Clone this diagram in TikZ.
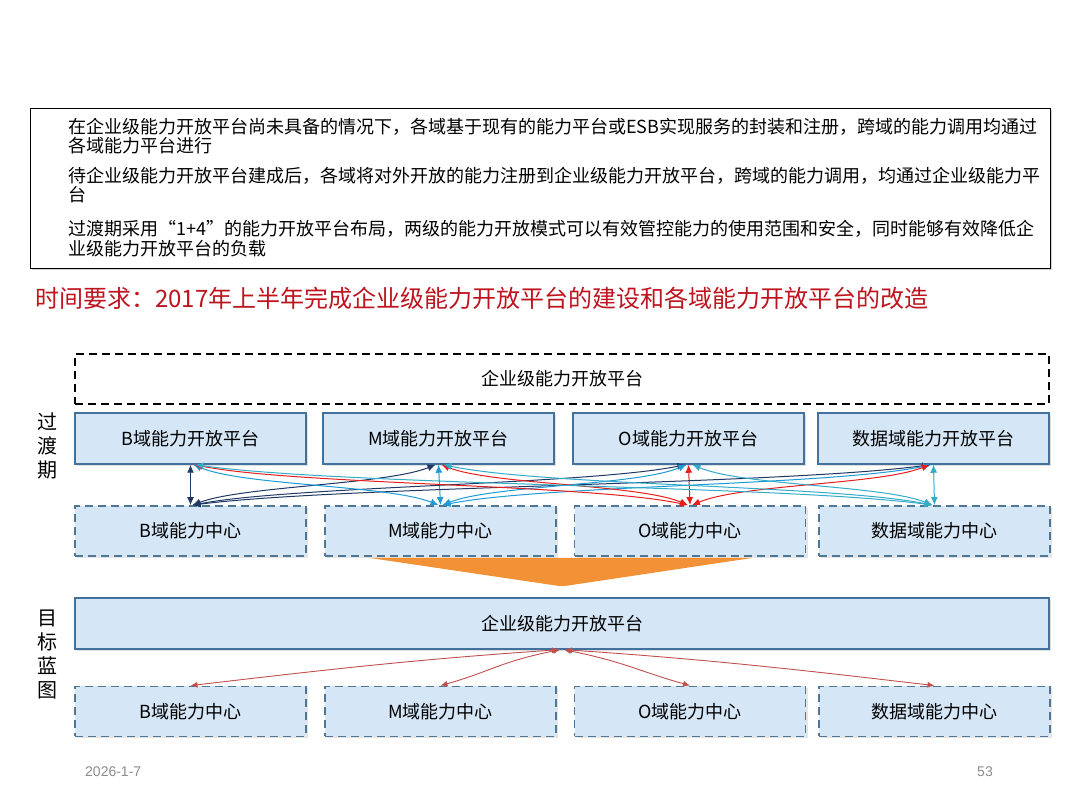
\documentclass[tikz,border=0pt]{standalone}
\usepackage{fontspec}
\setmainfont{Noto Sans CJK SC}
\newfontfamily\footfont{Liberation Sans}
\usetikzlibrary{arrows.meta,shadows}
\definecolor{boxfill}{RGB}{213,230,246}
\definecolor{boxdraw}{RGB}{65,113,156}
\definecolor{dashdraw}{RGB}{80,118,150}
\definecolor{titlered}{RGB}{190,20,30}
\definecolor{triorange}{RGB}{242,145,54}
\definecolor{colB}{RGB}{31,56,100}
\definecolor{colM}{RGB}{30,155,215}
\definecolor{colO}{RGB}{230,30,30}
\definecolor{colD}{RGB}{50,172,200}
\definecolor{arrred}{RGB}{192,80,77}
\definecolor{footgray}{RGB}{140,140,140}
\tikzset{
  platbox/.style={draw=boxdraw,line width=1.5pt,fill=boxfill,minimum width=231pt,minimum height=51pt,inner sep=0pt,font=\fontsize{18}{20}\selectfont,
    drop shadow={opacity=0.25,shadow xshift=2pt,shadow yshift=-2pt}},
  centbox/.style={draw=dashdraw,line width=1.8pt,dash pattern=on 8pt off 5pt,fill=boxfill,minimum width=231pt,minimum height=50pt,inner sep=0pt,font=\fontsize{18}{20}\selectfont,
    drop shadow={opacity=0.2,shadow xshift=2pt,shadow yshift=-2pt}},
  conn/.style={line width=1pt,{Latex[length=8pt,width=7pt]}-{Latex[length=8pt,width=7pt]}},
  rconn/.style={line width=0.9pt,draw=arrred,{Latex[length=7pt,width=6pt]}-{Latex[length=7pt,width=6pt]}},
  notetext/.style={anchor=west,inner sep=0pt,font=\fontsize{18}{20}\selectfont},
  sidelabel/.style={align=center,inner sep=0pt,font=\fontsize{20}{24}\selectfont}
}
\begin{document}
\begin{tikzpicture}[x=1pt,y=1pt]
\useasboundingbox[fill=white] (0,0) rectangle (1080,810);
% notes box
\node[draw=black,line width=0.8pt,fill=white,minimum width=1020pt,minimum height=160pt,inner sep=0pt,
  drop shadow={opacity=0.35,shadow xshift=2pt,shadow yshift=-2pt}] (notes) at (540,622) {};
\node[notetext] (n1) at (68,683) {在企业级能力开放平台尚未具备的情况下，各域基于现有的能力平台或ESB实现服务的封装和注册，跨域的能力调用均通过};
\node[notetext] (n2) at (68,664) {各域能力平台进行};
\node[notetext] (n3) at (68,634) {待企业级能力开放平台建成后，各域将对外开放的能力注册到企业级能力开放平台，跨域的能力调用，均通过企业级能力平};
\node[notetext] (n4) at (68,615) {台};
\node[notetext] (n5) at (68,581) {过渡期采用“1+4”的能力开放平台布局，两级的能力开放模式可以有效管控能力的使用范围和安全，同时能够有效降低企};
\node[notetext] (n6) at (68,561) {业级能力开放平台的负载};
% title
\node[anchor=west,inner sep=0pt,text=titlered,font=\fontsize{24}{26}\selectfont] (title) at (35,512) {时间要求：2017年上半年完成企业级能力开放平台的建设和各域能力开放平台的改造};
% left labels
\node[sidelabel] (lab1) at (47,364) {过\\渡\\期};
\node[sidelabel] (lab2) at (47,155.5) {目\\标\\蓝\\图};
% enterprise dashed
\node[draw=black,line width=1.8pt,dash pattern=on 8pt off 5pt,fill=white,minimum width=974pt,minimum height=50pt,inner sep=0pt,font=\fontsize{18}{20}\selectfont] (entT) at (562,431) {企业级能力开放平台};
% platforms
\node[platbox] (pB) at (190.5,371.5) {B域能力开放平台};
\node[platbox] (pM) at (438.5,371.5) {M域能力开放平台};
\node[platbox] (pO) at (688.5,371.5) {O域能力开放平台};
\node[platbox] (pD) at (933.5,371.5) {数据域能力开放平台};
% centers
\node[centbox] (cB) at (190.5,279) {B域能力中心};
\node[centbox] (cM) at (440.5,279) {M域能力中心};
\node[centbox] (cO) at (690,279) {O域能力中心};
\node[centbox] (cD) at (934.5,279) {数据域能力中心};
% orange triangle
\fill[triorange] (370,252) -- (752,252) -- (565,224) -- (559,224) -- cycle;
% enterprise target
\node[platbox,minimum width=974pt] (ent) at (562,186.5) {企业级能力开放平台};
% bottom centers
\node[centbox] (bB) at (190.5,98.5) {B域能力中心};
\node[centbox] (bM) at (440.5,98.5) {M域能力中心};
\node[centbox] (bO) at (690,98.5) {O域能力中心};
\node[centbox] (bD) at (934.5,98.5) {数据域能力中心};
% transition connectors: verticals
\draw[conn,colB] (cB.north) -- (pB.south);
\draw[conn,colM] (cM.north) -- (pM.south);
\draw[conn,colO] (cO.north) -- (pO.south);
\draw[conn,colD] (cD.north) -- (pD.south);
% from B center
\draw[conn,colB] ([xshift=2pt]cB.north) .. controls +(50,19) and +(-50,-20) .. ([xshift=-3pt]pM.south);
\draw[conn,colB] ([xshift=2pt]cB.north) .. controls +(100,19) and +(-100,-20) .. ([xshift=-3pt]pO.south);
\draw[conn,colB] ([xshift=2pt]cB.north) .. controls +(150,19) and +(-150,-20) .. ([xshift=-3pt]pD.south);
% from M center
\draw[conn,colM] ([xshift=-2pt]cM.north) .. controls +(-50,20) and +(50,-21) .. ([xshift=3pt]pB.south);
\draw[conn,colM] ([xshift=2pt]cM.north) .. controls +(50,20) and +(-50,-21) .. ([xshift=-2pt]pO.south);
\draw[conn,colM] ([xshift=2pt]cM.north) .. controls +(100,20) and +(-100,-21) .. ([xshift=-2pt]pD.south);
% from O center
\draw[conn,colO] ([xshift=-2pt]cO.north) .. controls +(-100,21) and +(100,-20) .. ([xshift=4pt]pB.south);
\draw[conn,colO] ([xshift=-2pt]cO.north) .. controls +(-50,21) and +(50,-20) .. ([xshift=3pt]pM.south);
\draw[conn,colO] ([xshift=2pt]cO.north) .. controls +(50,21) and +(-50,-20) .. ([xshift=-4pt]pD.south);
% from data center
\draw[conn,colD] ([xshift=-2pt]cD.north) .. controls +(-150,20) and +(150,-21) .. ([xshift=5pt]pB.south);
\draw[conn,colD] ([xshift=-2pt]cD.north) .. controls +(-100,20) and +(100,-21) .. ([xshift=5pt]pM.south);
\draw[conn,colD] ([xshift=-2pt]cD.north) .. controls +(-50,20) and +(50,-21) .. ([xshift=4pt]pO.south);
% target connectors
\draw[rconn] ([xshift=-3pt]ent.south) .. controls +(-150,-10) and +(120,14) .. (bB.north);
\draw[rconn] ([xshift=-2pt]ent.south) .. controls +(-60,-12) and +(50,14) .. (bM.north);
\draw[rconn] ([xshift=2pt]ent.south) .. controls +(60,-12) and +(-50,14) .. (bO.north);
\draw[rconn] ([xshift=3pt]ent.south) .. controls +(150,-10) and +(-120,14) .. (bD.north);
% footer
\node[anchor=west,inner sep=0pt,text=footgray,font=\footfont\fontsize{14}{16}\selectfont] (date) at (85,38) {2026-1-7};
\node[inner sep=0pt,text=footgray,font=\footfont\fontsize{14}{16}\selectfont] (page) at (985,38) {53};
\end{tikzpicture}
\end{document}
